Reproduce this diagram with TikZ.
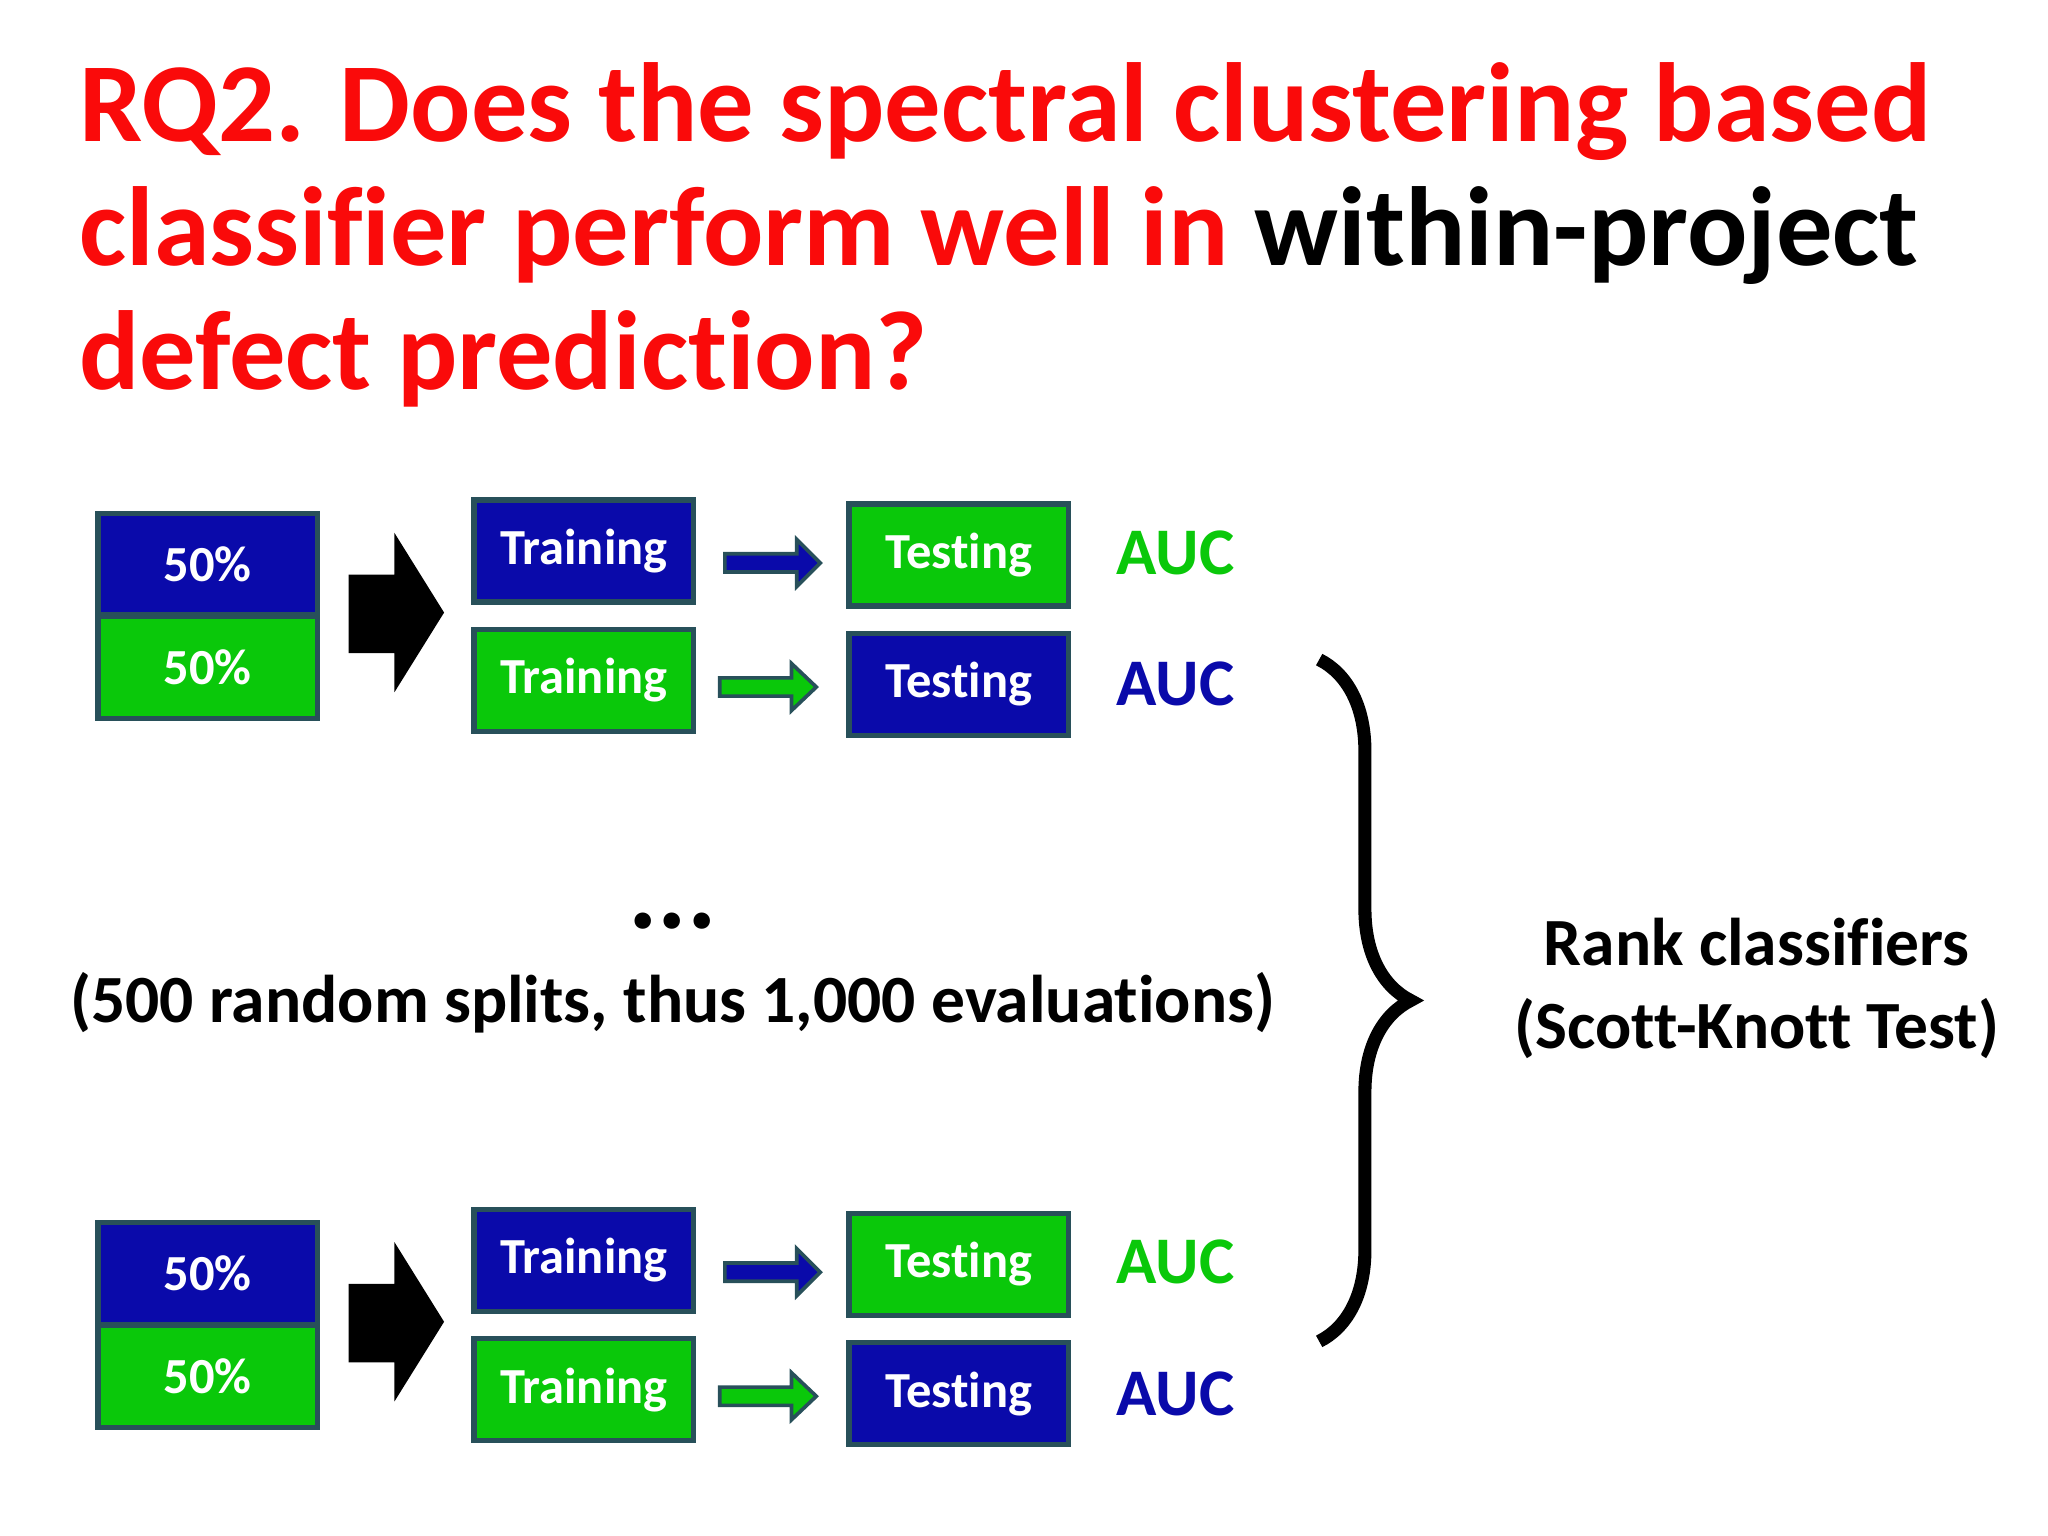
\documentclass[tikz,border=0pt]{standalone}
\usepackage{fontspec}
\setmainfont{Carlito}[Ligatures={NoCommon}]
\usetikzlibrary{decorations.pathreplacing}
\definecolor{bblue}{RGB}{10,10,170}
\definecolor{bgreen}{RGB}{10,200,10}
\definecolor{tred}{RGB}{250,10,10}
\definecolor{edge}{RGB}{40,80,90}
\begin{document}
\begin{tikzpicture}[x=0.01cm,y=-0.01cm,
  box/.style={draw=edge,line width=1.2pt,minimum width=1.68cm,minimum height=0.78cm,inner sep=0pt,text=white,font=\fontsize{11}{13}\selectfont\bfseries},
  bbox/.style={box,fill=bblue},
  gbox/.style={box,fill=bgreen},
  auc/.style={font=\fontsize{14.5}{16}\selectfont\bfseries},
  big/.style={font=\fontsize{14.7}{17}\selectfont\bfseries}]
\useasboundingbox (0,0) rectangle (1568,1176);
\node[anchor=west,align=left,font=\fontsize{24.5}{27}\selectfont\bfseries,text=tred,inner sep=0pt] (title) at (60,180)
 {RQ2. Does the spectral clustering based\\ classifier perform well in \textcolor{black}{within-project}\\ defect prediction?};
\foreach \g/\d in {a/0,b/543}{
 \node[bbox] (\g top) at (159,432+\d) {50\%};
 \node[gbox] (\g bot) at (159,511+\d) {50\%};
 \fill (267,440+\d) -- (302,440+\d) -- (302,408+\d) -- (340,469+\d) -- (302,530+\d) -- (302,500+\d) -- (267,500+\d) -- cycle;
 \node[bbox] (\g tr1) at (447,422+\d) {Training};
 \node[gbox] (\g tr2) at (447,521+\d) {Training};
 \node[gbox] (\g te1) at (734,425+\d) {Testing};
 \node[bbox] (\g te2) at (734,524+\d) {Testing};
 \draw[edge,fill=bblue,line width=0.8pt] (555,424+\d) -- (610,424+\d) -- (610,413+\d) -- (628,431+\d) -- (610,449+\d) -- (610,438+\d) -- (555,438+\d) -- cycle;
 \draw[edge,fill=bgreen,line width=0.8pt] (551,519+\d) -- (606,519+\d) -- (606,508+\d) -- (625,526+\d) -- (606,544+\d) -- (606,533+\d) -- (551,533+\d) -- cycle;
 \node[auc,text=bgreen] (\g auc1) at (900,423+\d) {AUC};
 \node[auc,text=bblue] (\g auc2) at (900,524+\d) {AUC};
}
\node[font=\fontsize{24}{26}\selectfont\bfseries] (dots) at (515,705) {...};
\node[big] (splits) at (515,768) {(500 random splits, thus 1,000 evaluations)};
\coordinate (bt) at (1010,505);
\coordinate (bb) at (1010,1027);
\draw[line width=0.1cm,decorate,decoration={brace,amplitude=0.7cm}] (bt) -- (bb);
\node[big,align=center] (rank) at (1345,757) {Rank classifiers\\[1pt](Scott-Knott Test)};
\end{tikzpicture}
\end{document}
